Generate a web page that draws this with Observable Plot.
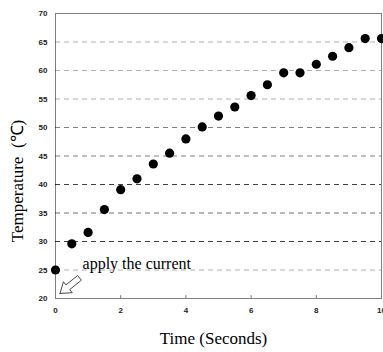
<!DOCTYPE html>
<html>
<head>
<meta charset="utf-8">
<script src="https://cdn.jsdelivr.net/npm/d3@7"></script>
<script src="https://cdn.jsdelivr.net/npm/@observablehq/plot@0.6"></script>
<style>
  html, body { margin: 0; padding: 0; background: #fff; }
  svg { display: block; }
</style>
</head>
<body>
<div id="chart"></div>
<script>
// Data
const times = [0, 0.5, 1, 1.5, 2, 2.5, 3, 3.5, 4, 4.5, 5, 5.5, 6, 6.5, 7, 7.5, 8, 8.5, 9, 9.5, 10];
const temps = [25.0, 29.6, 31.6, 35.6, 39.1, 41.0, 43.6, 45.5, 48.0, 50.1, 52.0, 53.6, 55.6, 57.5, 59.6, 59.6, 61.1, 62.5, 64.0, 65.6, 65.6];
const xTicks = [0, 2, 4, 6, 8, 10];
const yTicks = [20, 25, 30, 35, 40, 45, 50, 55, 60, 65, 70];
const gridLevels = [25, 30, 35, 40, 45, 50, 55, 60, 65];
const gridShades = ["#b0b0b0", "#404040", "#707070", "#404040", "#808080", "#808080", "#b0b0b0", "#b0b0b0", "#b0b0b0"];
const annotationText = "apply the current";
const annotationPos = {x: 0.83, y: 25.2};
// hollow arrow outline (data coordinates), pointing to the first point's lower-left
const arrowX = [0.138, 0.512, 0.436, 0.794, 0.678, 0.319, 0.242, 0.138];
const arrowY = [20.88, 21.02, 21.56, 23.21, 24.02, 22.39, 22.93, 20.88];
const xLabel = "Time (Seconds)";
const yLabel = "Temperature  (℃)";

const points = times.map((t, i) => ({t, v: temps[i]}));
const grid = gridLevels.map((g, i) => ({g, c: gridShades[i]}));
const arrow = arrowX.map((x, i) => ({x, y: arrowY[i]}));

const chart = Plot.plot({
  width: 383,
  height: 352,
  marginLeft: 55,
  marginRight: 2,
  marginTop: 13,
  marginBottom: 54,
  style: {fontFamily: "Liberation Sans, Arial, sans-serif", background: "#fff"},
  x: {domain: [0, 10], label: null},
  y: {domain: [20, 70], label: null},
  marks: [
    Plot.ruleY(grid, {y: "g", stroke: "c", strokeDasharray: "5,4", strokeWidth: 1}),
    Plot.frame({stroke: "#000", strokeDasharray: "1,1", strokeWidth: 1}),
    Plot.ruleX(xTicks.slice(1, -1), {y1: 20, y2: 20.5, stroke: "#777"}),
    Plot.axisX(xTicks, {tickSize: 0, tickPadding: 9, fontSize: 8, fontWeight: "bold", fill: "#222", label: null}),
    Plot.axisY(yTicks, {tickSize: 0, tickPadding: 8, fontSize: 8, fontWeight: "bold", fill: "#222", label: null}),
    Plot.dot(points, {x: "t", y: "v", r: 4.6, fill: "#000", stroke: "none"}),
    Plot.line(arrow, {x: "x", y: "y", stroke: "#333", strokeWidth: 0.9, fill: "#fff", curve: "linear"}),
    Plot.text([annotationText], {x: annotationPos.x, y: annotationPos.y, text: d => d, textAnchor: "start", fontSize: 16, fontFamily: "Liberation Serif, Times New Roman, serif", fill: "#000", lineAnchor: "bottom"}),
    Plot.text([xLabel], {frameAnchor: "bottom", text: d => d, fontSize: 17, fontFamily: "Liberation Serif, Times New Roman, serif", fill: "#000", dy: 45, dx: -5})
  ]
});

// Y axis title (rotated) as part of the SVG
const svg = d3.select(chart);
svg.append("text")
  .attr("transform", "translate(19,181) rotate(-90)")
  .attr("text-anchor", "middle")
  .attr("dominant-baseline", "middle")
  .attr("font-family", "Liberation Serif, Times New Roman, serif")
  .attr("font-size", 17)
  .attr("fill", "#000")
  .text(yLabel);

document.getElementById("chart").appendChild(chart);
</script>
</body>
</html>
